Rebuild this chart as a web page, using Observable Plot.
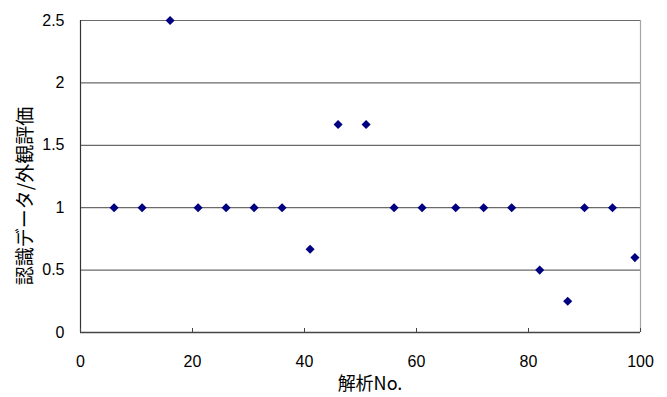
<!DOCTYPE html>
<html>
<head>
<meta charset="utf-8">
<script src="https://cdn.jsdelivr.net/npm/d3@7"></script>
<script src="https://cdn.jsdelivr.net/npm/@observablehq/plot@0.6"></script>
<style>
  html, body { margin: 0; padding: 0; background: #fff; }
  #chart svg { display: block; }
</style>
</head>
<body>
<div id="chart"></div>
<script>
// 解析No. and the ratio of recognition data to visual evaluation
const analysisNo = [6, 11, 16, 21, 26, 31, 36, 41, 46, 51, 56, 61, 67, 72, 77, 82, 87, 90, 95, 99];
const ratio = [1, 1, 2.5, 1, 1, 1, 1, 0.667, 1.667, 1.667, 1, 1, 1, 1, 1, 0.5, 0.25, 1, 1, 0.6];

const xTicks = [0, 20, 40, 60, 80, 100];
const yTicks = [0, 0.5, 1, 1.5, 2, 2.5];

const points = analysisNo.map((n, i) => ({n, v: ratio[i]}));

const tickFont = "'Liberation Sans', Arial, sans-serif";
const titleFont = "'Noto Sans CJK JP', 'Liberation Sans', sans-serif";

const chart = Plot.plot({
  width: 667,
  height: 397,
  marginLeft: 80,
  marginRight: 27,
  marginTop: 20,
  marginBottom: 65,
  style: {fontFamily: tickFont, fontSize: "16px", color: "#000", background: "#fff"},
  x: {domain: [0, 100]},
  y: {domain: [0, 2.5]},
  marks: [
    // horizontal gridlines
    Plot.ruleY(yTicks.filter(d => d > 0), {stroke: "#6a6a6a", strokeWidth: 1.2, strokeOpacity: 1}),
    // right border
    Plot.ruleX([100], {stroke: "#a6a6a6", strokeWidth: 1.2}),
    // axis lines
    Plot.ruleX([0], {stroke: "#333", strokeWidth: 1.2}),
    Plot.ruleY([0], {stroke: "#444", strokeWidth: 1.5}),
    Plot.axisX(xTicks, {tickSize: -4, tickPadding: 27, stroke: "#444", fontSize: 16, label: null, tickFormat: d => String(d)}),
    Plot.axisY(yTicks, {tickSize: 0, tickPadding: 16, fontSize: 16, label: null, tickFormat: d => String(d)}),
    Plot.dot(points, {x: "n", y: "v", symbol: "diamond2", r: 4.1, fill: "#000080", stroke: "none"})
  ]
});

// axis titles
const svg = d3.select(chart);
svg.append("text")
  .attr("x", 370)
  .attr("y", 390)
  .attr("text-anchor", "middle")
  .attr("font-family", titleFont)
  .attr("font-size", 18)
  .attr("fill", "#000")
  .text("解析No.");
svg.append("text")
  .attr("transform", "translate(32,196) rotate(-90)")
  .attr("text-anchor", "middle")
  .attr("font-family", titleFont)
  .attr("font-size", 19)
  .attr("fill", "#000")
  .text("認識データ/外観評価");

document.getElementById("chart").appendChild(chart);
</script>
</body>
</html>
